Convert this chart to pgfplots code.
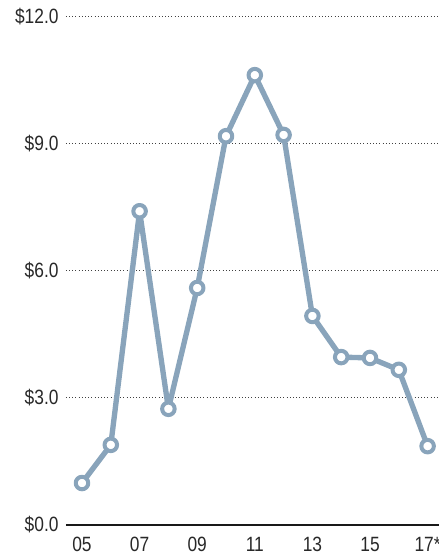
\documentclass[border=0pt]{standalone}
\usepackage{fontspec}
\setmainfont[FakeStretch=0.84]{Liberation Sans}
\usepackage{pgfplots}
\pgfplotsset{compat=1.18}
\definecolor{serie}{RGB}{137,164,187}
\definecolor{txt}{RGB}{40,40,40}
\begin{document}
\begin{tikzpicture}
\begin{axis}[
  x=21.6pt, y=31.8pt,
  xmin=4.44, xmax=17.4, ymin=0, ymax=12,
  clip=false,
  axis x line*=bottom, axis y line*=left,
  y axis line style={draw=none},
  x axis line style={black!90, line width=2.2pt},
  major tick length=0pt,
  ytick={0,3,6,9,12},
  yticklabels={\$0.0,\$3.0,\$6.0,\$9.0,\$12.0},
  xtick={5,7,9,11,13,15,17},
  xticklabels={05,07,09,11,13,15,17*},
  ymajorgrids,
  grid style={dotted, line width=0.7pt, black!75},
  tick label style={font=\fontsize{15.5pt}{18pt}\selectfont, text=txt},
  yticklabel style={xshift=-2pt},
  xticklabel style={yshift=-5.3pt},
]
\addplot[serie, line width=4pt, line join=round,
  mark=*, mark size=4.7pt,
  mark options={fill=white, draw=serie, line width=3pt}]
  coordinates {
  (5,0.99) (6,1.89) (7,7.40) (8,2.74) (9,5.59) (10,9.17) (11,10.61)
  (12,9.20) (13,4.93) (14,3.96) (15,3.94) (16,3.66) (17,1.86)
  };
\coordinate (bl) at (axis cs:2.153,-0.731);
\coordinate (tr) at (axis cs:17.361,12.382);
\end{axis}
\pgfresetboundingbox
\useasboundingbox (bl) rectangle (tr);
\end{tikzpicture}
\end{document}
